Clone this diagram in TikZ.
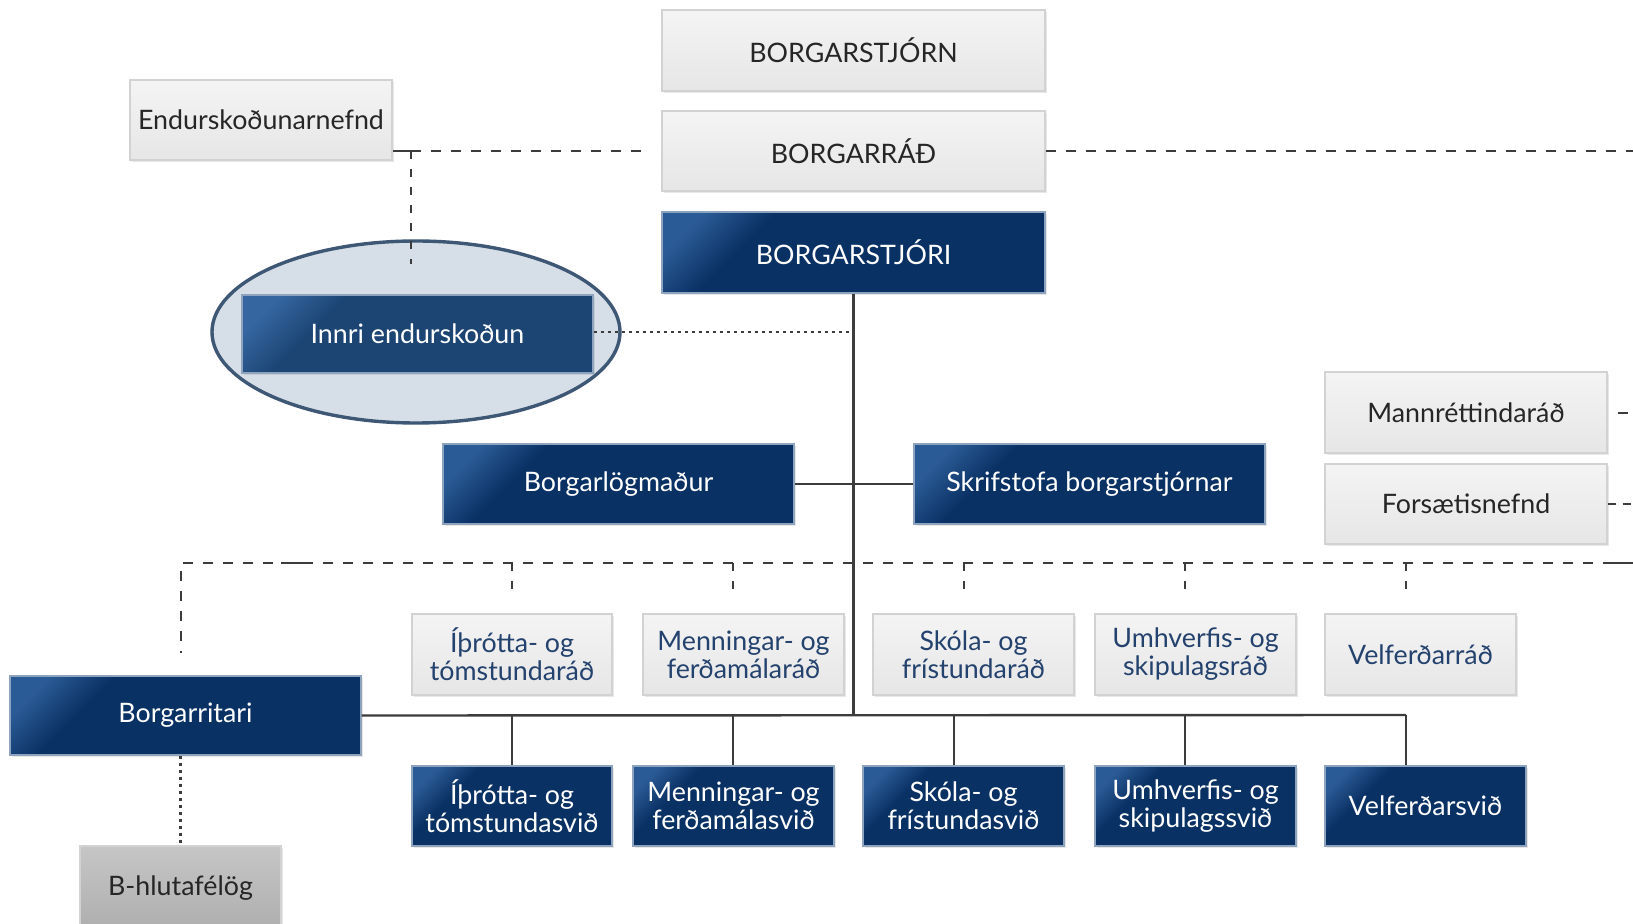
\documentclass[tikz,border=0pt]{standalone}
\usepackage{fontspec}
\setmainfont{Lato}
\usetikzlibrary{shapes.geometric,shadows,calc}
\definecolor{navy}{HTML}{0A3164}
\definecolor{navyL}{HTML}{2B5B96}
\definecolor{navyedge}{HTML}{8EA3BD}
\definecolor{innriC}{HTML}{1C4574}
\definecolor{innriL}{HTML}{3566A0}
\definecolor{grayT}{HTML}{F4F4F4}
\definecolor{grayB}{HTML}{E6E6E6}
\definecolor{grayedge}{HTML}{D2D2D2}
\definecolor{txtdark}{HTML}{262626}
\definecolor{councilblue}{HTML}{24426E}
\definecolor{linegray}{HTML}{3C3C3C}
\definecolor{ellfill}{HTML}{D6DFE8}
\definecolor{ellborder}{HTML}{3D5774}
\definecolor{bhT}{HTML}{C6C6C6}
\definecolor{bhB}{HTML}{AEAEAE}
\pgfdeclarehorizontalshading{navyshade}{100bp}{color(0bp)=(navyL); color(21bp)=(navyL); color(32bp)=(navy); color(100bp)=(navy)}
\pgfdeclarehorizontalshading{innrishade}{100bp}{color(0bp)=(innriL); color(21bp)=(innriL); color(32bp)=(innriC); color(100bp)=(innriC)}
\tikzset{
  sz/.style 2 args={minimum width=#1*0.5pt, minimum height=#2*0.5pt},
  lbl/.style={font=\fontsize{13.4}{14}\selectfont, align=center, inner sep=0pt},
  boxshadow/.style={drop shadow={shadow xshift=0.8pt, shadow yshift=-0.8pt, opacity=0.18}},
  graybox/.style={rectangle, lbl, draw=grayedge, line width=0.7pt, shade, top color=grayT, bottom color=grayB, text=txtdark, boxshadow},
  councilbox/.style={graybox, text=councilblue},
  bluebox/.style={rectangle, lbl, draw=navyedge, line width=0.6pt, shade, shading=navyshade, shading angle=-45, text=white, boxshadow},
  innribox/.style={bluebox, shading=innrishade},
  bhbox/.style={rectangle, lbl, draw=grayedge, line width=0.7pt, shade, top color=bhT, bottom color=bhB, text=txtdark, boxshadow},
  dashline/.style={draw=linegray, line width=1.3pt, dash pattern=on 5pt off 5pt},
  vdashline/.style={draw=linegray, line width=1.3pt, dash pattern=on 4pt off 5pt},
  dotline/.style={draw=linegray, line width=1.4pt, dash pattern=on 1.7pt off 1.8pt},
  solidline/.style={draw=linegray, line width=1.2pt},
}
\begin{document}
\begin{tikzpicture}[x=0.5pt,y=-0.5pt]
\useasboundingbox (0,0) rectangle (1633,924);
\clip (0,0) rectangle (1633,924);
\fill[white] (0,0) rectangle (1633,924);

% highlight ellipse
\node[ellipse, draw=ellborder, fill=ellfill, line width=1.7pt, sz={408}{182}] (ell) at (416,332) {};

% nodes
\node[graybox, sz={383}{81}] (bstjorn) at (853.5,50.5) {BORGARSTJÓRN};
\node[graybox, sz={383}{80}] (brad) at (853.5,151) {BORGARRÁÐ};
\node[bluebox, sz={383}{81}] (bstjori) at (853.5,252.5) {BORGARSTJÓRI};
\node[graybox, sz={262}{80}] (endnefnd) at (261,120) {Endurskoðunarnefnd};
\node[innribox, sz={351}{78}] (innri) at (417.5,334) {Innri endurskoðun};
\node[bluebox, sz={351}{80}] (blog) at (618.5,484) {Borgarlögmaður};
\node[bluebox, sz={351}{80}] (skrif) at (1089.5,484) {Skrifstofa borgarstjórnar};
\node[graybox, sz={282}{81}] (mann) at (1466,412.5) {Mannréttindaráð};
\node[graybox, sz={282}{80}] (fors) at (1466,504) {Forsætisnefnd};

\node[councilbox, sz={200}{81}] (c1) at (512,654.5) {Íþrótta- og\\tómstundaráð};
\node[councilbox, sz={201}{81}] (c2) at (743.5,654.5) {Menningar- og\\ferðamálaráð};
\node[councilbox, sz={201}{81}] (c3) at (973.5,654.5) {Skóla- og\\frístundaráð};
\node[councilbox, sz={201}{81}] (c4) at (1195.5,654.5) {Umhverfis- og\\skipulagsráð};
\node[councilbox, sz={191}{81}] (c5) at (1420.5,654.5) {Velferðarráð};

\node[bluebox, sz={351}{79}] (britari) at (185.5,715.5) {Borgarritari};

\node[bluebox, sz={200}{80}] (d1) at (512,806) {Íþrótta- og\\tómstundasvið};
\node[bluebox, sz={201}{80}] (d2) at (733.5,806) {Menningar- og\\ferðamálasvið};
\node[bluebox, sz={201}{80}] (d3) at (963.5,806) {Skóla- og\\frístundasvið};
\node[bluebox, sz={201}{80}] (d4) at (1195.5,806) {Umhverfis- og\\skipulagssvið};
\node[bluebox, sz={201}{80}] (d5) at (1425.5,806) {Velferðarsvið};

\node[bhbox, sz={201}{84}] (bhluta) at (180.5,888) {B-hlutafélög};

% coordinates
\coordinate (eR1) at (1633,151);
\coordinate (eR2) at (1633,413);
\coordinate (eR3) at (1633,504);
\coordinate (busR) at (1633,563);
\coordinate (busL) at (181,563);
\coordinate (cornerE) at (411,151);
\coordinate (trunkInnri) at (853.5,332);
\coordinate (trunkBot) at (853.5,715);
\coordinate (s1) at (512,563);
\coordinate (s2) at (733,563);
\coordinate (s3) at (964,563);
\coordinate (s4) at (1185,563);
\coordinate (s5) at (1406,563);
\coordinate (t1) at (512,715);
\coordinate (t2) at (733,715);
\coordinate (t3) at (954,715);
\coordinate (t4) at (1185,715);
\coordinate (t5) at (1406,715);

% top dashed connections
\draw[solidline] (endnefnd.east |- cornerE) -- (cornerE);
\draw[dashline, shorten >=10] (cornerE) -- (brad.west);
\draw[vdashline, shorten >=15] (cornerE) -- (innri.north -| cornerE);
\draw[dashline] (brad.east) -- (eR1);

% Innri dotted
\draw[dotline] (innri.east |- trunkInnri) -- (trunkInnri);

% trunk
\draw[solidline] (bstjori.south) -- (trunkBot);
\draw[solidline] (blog.east) -- (skrif.west);

% right stubs
\draw[dashline, dash phase=5pt] (mann.east |- eR2) -- (eR2);
\draw[dashline, dash pattern=on 4pt off 3.5pt] (fors.east) -- (eR3);

% dashed bus
\draw[dashline] (busR) -- (busL) -- ($(britari.north -| busL)+(0,-22)$);
\draw[solidline] ($(busR)+(-26,0)$) -- (busR);
\draw[solidline] (281,563) -- (311,563);
\foreach \i in {1,...,5} {
  \draw[vdashline, shorten >=8] (s\i) -- (c\i.north -| s\i);
}

% solid bus
\draw[solidline] (britari.east) -- (t5);
\foreach \i in {1,...,5} {
  \draw[solidline] (t\i) -- (d\i.north -| t\i);
}

% dotted to B-hluta
\draw[dotline] (britari.south -| bhluta.north) -- (bhluta.north);
\end{tikzpicture}
\end{document}
